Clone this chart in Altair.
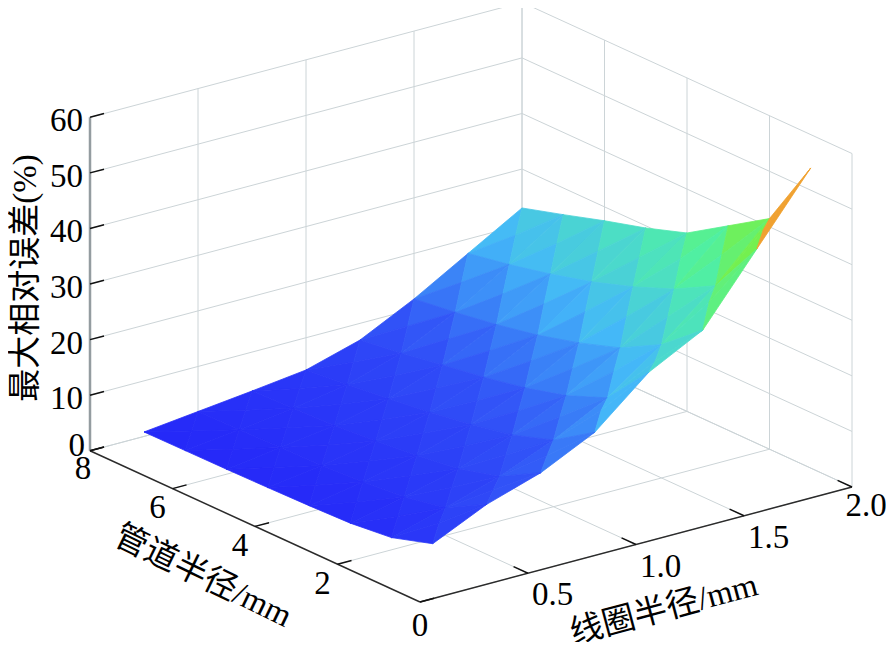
"""3D surface of the maximum relative error, drawn with Altair by projecting the grid."""
import altair as alt
import pandas as pd

# surface grid
coil_radius = [0.25, 0.5, 0.75, 1.0, 1.25, 1.5, 1.75, 2.0]  # 线圈半径 / mm
pipe_radius = [1, 2, 3, 4, 5, 6, 7, 8]  # 管道半径 / mm
# 最大相对误差 (%), one row per pipe radius, one column per coil radius
max_error = [
    [4.5, 9.0, 12.1, 16.8, 25.0, 30.0, 42.0, 54.0],
    [2.2, 5.0, 8.0, 12.0, 17.0, 24.0, 32.0, 41.5],
    [1.4, 3.5, 6.0, 9.5, 14.0, 20.0, 28.0, 36.8],
    [1.15, 2.8, 5.0, 8.0, 12.0, 17.5, 25.0, 32.1],
    [1.0, 2.4, 4.2, 6.8, 10.5, 15.5, 22.5, 29.6],
    [0.9, 2.2, 3.6, 5.8, 9.3, 14.0, 20.5, 27.5],
    [0.85, 2.0, 3.3, 5.0, 8.0, 12.8, 18.8, 25.2],
    [0.8, 1.9, 3.0, 4.2, 7.0, 11.8, 17.4, 23.0],
]

# axes
z_ticks = [0, 10, 20, 30, 40, 50, 60]
pipe_ticks = [0, 2, 4, 6, 8]
coil_ticks = [0.5, 1.0, 1.5, 2.0]
coil_tick_labels = ["0.5", "1.0", "1.5", "2.0"]
C_MAX, P_MAX, Z_MAX = 2.0, 8, 60

# view: page position of (coil 0, pipe 0, error 0) and screen step per unit
ORIGIN = (420, 602)
COIL_STEP = (216, -57.5)
PIPE_STEP = (-41.25, -18.9)
Z_STEP = -5.558
TICK_C, TICK_P = 0.065, 0.35

W, H = 878, 634
FONT = "Liberation Serif, Noto Sans CJK SC"

x_enc = alt.X("sx:Q", scale=alt.Scale(domain=[8, 8 + W], nice=False, zero=False), axis=None)
y_enc = alt.Y("sy:Q", scale=alt.Scale(domain=[8, 8 + H], nice=False, zero=False, reverse=True), axis=None)


def project(chart, dx="0", dy="0"):
    return chart.transform_calculate(
        sx=f"{ORIGIN[0]} + {COIL_STEP[0]}*datum.c + {PIPE_STEP[0]}*datum.p + ({dx})",
        sy=f"{ORIGIN[1]} + {COIL_STEP[1]}*datum.c + {PIPE_STEP[1]}*datum.p + {Z_STEP}*datum.z + ({dy})",
    )


def segments_frame(segs):
    rows = []
    for n, (a, b) in enumerate(segs):
        for k, (c, p, z) in enumerate((a, b)):
            rows.append({"seg": n, "k": k, "c": c, "p": p, "z": z})
    return pd.DataFrame(rows)


def line_layer(df, color, width):
    base = alt.Chart(df).mark_line(color=color, strokeWidth=width)
    return project(base).encode(x=x_enc, y=y_enc, detail="seg:N", order="k:Q")


# back walls and floor grid
grid = []
for c in coil_ticks:
    grid.append(((c, P_MAX, 0), (c, P_MAX, Z_MAX)))
    grid.append(((c, 0, 0), (c, P_MAX, 0)))
for z in z_ticks:
    grid.append(((0, P_MAX, z), (C_MAX, P_MAX, z)))
    grid.append(((C_MAX, 0, z), (C_MAX, P_MAX, z)))
for p in pipe_ticks:
    grid.append(((C_MAX, p, 0), (C_MAX, p, Z_MAX)))
    grid.append(((0, p, 0), (C_MAX, p, 0)))

# surface: each grid cell is shaded as four facets meeting at its middle, far facets first
tris = []
for j in range(len(pipe_radius) - 1):
    for i in range(len(coil_radius) - 1):
        corners = [(i, j), (i + 1, j), (i + 1, j + 1), (i, j + 1)]
        pts = [(coil_radius[a], pipe_radius[b], max_error[b][a]) for a, b in corners]
        mid = tuple(sum(v[n] for v in pts) / 4 for n in range(3))
        for q in range(4):
            tris.append([pts[q], pts[(q + 1) % 4], mid])
tris.sort(key=lambda v: sum(COIL_STEP[1] * c + PIPE_STEP[1] * p for c, p, _ in v))

surf_rows = []
for n, verts in enumerate(tris):
    zmean = sum(v[2] for v in verts) / 3
    for k, (c, p, z) in enumerate(verts + [verts[0]]):
        surf_rows.append({"tri": n, "k": k, "c": c, "p": p, "z": z, "zmean": zmean})
surf_df = pd.DataFrame(surf_rows)

cmap = alt.Scale(
    domain=[0, 10, 20, 27, 32, 40, 46, 54],
    range=["#2424f8", "#3254f7", "#44b8f8", "#4cdcc8", "#50f0a0", "#7af040", "#f0a030", "#eef040"],
    interpolate="rgb",
    clamp=True,
)
surface = project(
    alt.Chart(surf_df).mark_line(strokeWidth=0.8, strokeJoin="round")
).encode(
    x=x_enc,
    y=y_enc,
    detail="tri:O",
    order="k:Q",
    fill=alt.Fill("zmean:Q", scale=cmap, legend=None),
    stroke=alt.Stroke("zmean:Q", scale=cmap, legend=None),
)

# axis lines and ticks
z_axis = [((0, P_MAX, 0), (0, P_MAX, Z_MAX))]
floor_axes = [((0, 0, 0), (0, P_MAX, 0)), ((0, 0, 0), (C_MAX, 0, 0))]
ticks = [((0, P_MAX, z), (TICK_C, P_MAX, z)) for z in z_ticks]
ticks += [((0, p, 0), (TICK_C, p, 0)) for p in pipe_ticks]
ticks += [((c, 0, 0), (c, TICK_P, 0)) for c in coil_ticks]

# tick labels
z_lab = pd.DataFrame({"c": 0, "p": P_MAX, "z": z_ticks, "label": [str(z) for z in z_ticks]})
p_lab = pd.DataFrame({"c": 0, "p": pipe_ticks, "z": 0, "label": [str(p) for p in pipe_ticks]})
c_lab = pd.DataFrame({"c": coil_ticks, "p": 0, "z": 0, "label": coil_tick_labels})


def text_layer(df, dx, dy, align="center", size=33, angle=0):
    mark = alt.Chart(df).mark_text(
        font=FONT, fontSize=size, color="#000000", align=align, baseline="middle", angle=angle
    )
    return project(mark, dx, dy).encode(x=x_enc, y=y_enc, text="label:N")


z_labels = text_layer(z_lab, "datum.z == 0 ? -5 : -7", "datum.z == 0 ? -5 : 4", align="right")
p_labels = text_layer(
    p_lab,
    "datum.p == 0 ? 0 : (datum.p == 8 ? -7 : -15)",
    "datum.p == 0 ? 24 : (datum.p == 8 ? 18 : 19.5)",
)
c_labels = text_layer(c_lab, "datum.c == 2 ? 14 : 24.5", "datum.c == 2 ? 19 : 22")

z_title = text_layer(
    pd.DataFrame({"c": [0], "p": [P_MAX], "z": [30], "label": ["最大相对误差(%)"]}),
    "-64", "-6", angle=270,
)
p_title = text_layer(
    pd.DataFrame({"c": [0], "p": [4], "z": [0], "label": ["管道半径/mm"]}),
    "-52", "50", angle=26,
)
c_title = text_layer(
    pd.DataFrame({"c": [1], "p": [0], "z": [0], "label": ["线圈半径/mm"]}),
    "28", "65", angle=345,
)

chart = (
    alt.layer(
        line_layer(segments_frame(grid), "#ccd4d7", 1),
        surface,
        line_layer(segments_frame(z_axis), "#949ca0", 2.5),
        line_layer(segments_frame(floor_axes), "#2b2b2b", 1.5),
        line_layer(segments_frame(ticks), "#111111", 1.5),
        z_labels,
        p_labels,
        c_labels,
        z_title,
        p_title,
        c_title,
    )
    .properties(width=W, height=H, autosize=alt.AutoSizeParams(type="none"), padding=0)
    .configure_view(strokeWidth=0)
)

chart.save("out.html", embed_options={"renderer": "svg", "actions": False})
